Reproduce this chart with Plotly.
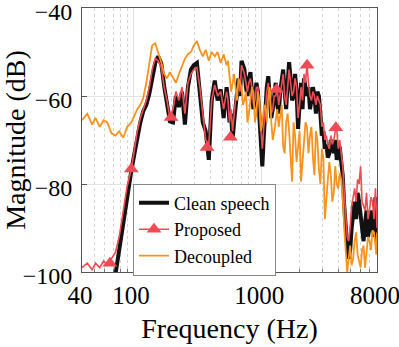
import numpy as np
import plotly.graph_objects as go

# frequency grid (Hz)
freq = [40, 44, 48, 51, 55, 59, 63, 68, 73, 78, 84, 90, 97,
        102, 108, 114, 120, 127, 134, 141, 149, 157, 166, 175, 184, 194, 205,
        216, 228, 241, 254, 268, 283, 298, 315, 332, 350, 369, 390, 411, 434,
        457, 483, 509,
        537, 551, 566, 582, 598, 614, 630, 647, 665, 683, 702, 721, 740, 760,
        781, 802, 824, 846, 869, 893, 917, 942, 967, 993, 1020, 1048, 1076, 1105,
        1135, 1166, 1198, 1230, 1263, 1297, 1333, 1369, 1406, 1444, 1483, 1523,
        1565, 1607, 1650, 1695, 1741, 1788, 1837, 1887, 1938, 1991, 2044, 2100,
        2156, 2215, 2275, 2337, 2400, 2465, 2532, 2600, 2671, 2743, 2817, 2894,
        2972, 3053, 3136, 3221, 3308, 3398, 3490, 3584, 3681, 3781, 3883, 3989,
        4097, 4208, 4322, 4439, 4559, 4683, 4810, 4940, 5074, 5211, 5352, 5497,
        5646, 5799, 5957, 6118, 6284, 6454, 6629, 6808, 6993, 7182, 7377, 7577,
        7783, 7890, 8000]

clean = [-108, -110, -107, -109, -106, -110, -108, -105, -100.5, -95, -88, -82, -77,
         -73.5, -69.5, -66, -63.5, -62, -59.5, -55.5, -52.5, -51, -52.5, -57.8, -62, -65.8, -66,
         -60, -62.5, -59, -66.5, -58, -54, -53, -52.5, -59.5, -66, -68, -74.5, -61, -56.5,
         -61, -58.5, -65,
         -58, -61, -66, -64, -70, -66, -62, -58, -56, -60, -52, -53, -54, -58,
         -60, -56, -54.6, -59, -63, -60, -57, -59, -64, -70, -76, -69, -63, -58,
         -55.5, -61, -65, -63, -60, -57, -62, -64, -59, -56, -54, -59,
         -63, -57, -52.3, -56, -61, -60, -55, -59, -67.5, -62, -57, -63,
         -56, -58, -60, -58, -63, -61, -58, -60, -64, -59, -60, -64,
         -69, -68, -72, -71, -74, -73, -70, -71, -73, -70, -74.5, -73,
         -71.5, -75, -78, -85, -91, -94, -97, -95, -90, -86, -84, -88,
         -82, -84, -87, -91, -93, -89, -86, -92, -90, -86, -89, -92,
         -83, -88, -93]

proposed = [-99, -98, -99.5, -98, -99, -97.5, -98.5, -97, -95.5, -92, -86, -80.5, -76.6,
            -72, -68, -65, -63, -61, -58, -54, -51.5, -52, -53.5, -58, -61, -65, -63,
            -59, -61, -58, -64, -57, -55, -54, -53.5, -58, -64, -70, -71, -61, -57.5,
            -60, -59, -63,
            -59, -61, -66, -63, -68, -64, -61, -59, -57, -59, -53, -54, -55, -57,
            -59, -57, -56, -58, -62, -61, -58, -58, -63, -66, -72, -67, -63, -59,
            -57, -60, -64, -63, -60, -60, -58.5, -62, -60, -57, -55, -60,
            -62, -58, -54, -57, -60, -59, -56, -58, -65, -62, -58, -61,
            -55, -57, -53, -57, -60, -61, -59, -60, -62, -60, -61, -62,
            -67, -66, -70, -69, -71, -72, -69, -71, -70, -68, -67.5, -72,
            -70, -73, -76, -82, -88, -92, -93, -90, -85, -83, -81, -84,
            -79, -80, -76, -84, -85, -86, -82, -88, -86, -83, -84, -88,
            -81, -84, -90]

decoupled = [-65.5, -64, -66.5, -65, -67, -65.5, -66, -68.5, -69, -68, -69.5, -67, -66,
             -64.5, -63, -62, -60.5, -57, -52, -48.5, -48, -50, -52.3, -55, -56, -54.6, -56,
             -57, -55, -53, -51.5, -50.5, -50, -48.5, -47.5, -49.5, -51, -49.5, -52, -50, -51,
             -50, -52.5, -50.5,
             -53, -52, -55.5, -59, -57, -55, -58, -61, -56, -57, -58, -62, -61, -59,
             -66, -64, -60, -58, -59, -66, -64, -59, -61, -68, -66, -63, -62, -66,
             -60, -58, -66, -70, -68, -65, -63, -67, -65, -62, -71.5, -73,
             -66, -64, -68, -74, -79.5, -66, -69, -75, -72, -68, -79.5, -75,
             -70, -66, -67, -73, -69, -67, -74, -78, -68, -70, -76.5, -80,
             -72, -74, -88, -82, -79, -75, -78, -84, -82, -76, -80, -81,
             -77.5, -79, -83, -90, -94, -100, -97, -94, -98.5, -97, -93, -91,
             -96, -98, -99, -95, -94, -99, -96, -92, -93, -95, -90.5, -91,
             -94, -96, -91]

# triangle markers on the proposed curve
marker_freq = [66, 97, 198, 378, 575, 1316, 2280, 3820]
marker_db = [-98, -76.6, -64.9, -71.7, -69.4, -58.5, -53, -67.2]

assert len(freq) == len(clean) == len(proposed) == len(decoupled)

RED = '#EE4C55'
ORANGE = '#F7931E'

fig = go.Figure()
fig.add_trace(go.Scatter(x=freq, y=clean, mode='lines', name='Clean speech',
                         line=dict(color='#111111', width=4)))
fig.add_trace(go.Scatter(x=freq, y=proposed, mode='lines', showlegend=False,
                         line=dict(color=RED, width=1.6)))
fig.add_trace(go.Scatter(x=marker_freq, y=marker_db, mode='markers', showlegend=False,
                         marker=dict(symbol='triangle-up', size=13, color=RED)))
fig.add_trace(go.Scatter(x=[None], y=[None], mode='lines+markers', name='Proposed',
                         line=dict(color=RED, width=1.5),
                         marker=dict(symbol='triangle-up', size=13, color=RED)))
fig.add_trace(go.Scatter(x=freq, y=decoupled, mode='lines', name='Decoupled',
                         line=dict(color=ORANGE, width=1.8)))

minor_vals = [50, 60, 70, 80, 90, 200, 300, 400, 500, 600, 700, 800, 900,
              2000, 3000, 4000, 5000, 6000, 7000]

fig.update_layout(
    width=399, height=347,
    margin=dict(l=82, r=22, t=8, b=75),
    plot_bgcolor='white', paper_bgcolor='white',
    font=dict(family='Liberation Serif', size=23, color='black'),
    legend=dict(x=0.173, y=0.335, xanchor='left', yanchor='top',
                bgcolor='white', bordercolor='#888888', borderwidth=1,
                font=dict(size=18), tracegroupgap=0),
)
fig.update_xaxes(type='log', range=[np.log10(40), np.log10(8000)], automargin=False,
                 tickvals=[40, 100, 1000, 8000], ticktext=['40', '100', '1000', '8000'],
                 tickfont=dict(size=25), ticklabelstandoff=1, ticklabelshift=-2,
                 ticklabeloverflow='allow',
                 showline=True, mirror=True, linecolor='#555555', linewidth=1,
                 ticks='inside', ticklen=5, tickcolor='#555555',
                 showgrid=True, gridcolor='#e3e3e3',
                 minor=dict(tickvals=minor_vals, showgrid=True, gridcolor='#d5d5d5',
                            griddash='dot', ticks='inside', ticklen=3, tickcolor='#777777'),
                 title=dict(text='Frequency (Hz)', standoff=10))
fig.update_yaxes(range=[-100, -40], automargin=False,
                 tickvals=[-100, -80, -60, -40],
                 ticktext=['\u2212100', '\u221280', '\u221260', '\u221240'],
                 tickfont=dict(size=24), ticklabelstandoff=4, ticklabelshift=4,
                 ticklabeloverflow='allow',
                 showline=True, mirror=True, linecolor='#555555', linewidth=1,
                 ticks='inside', ticklen=5, tickcolor='#555555',
                 showgrid=True, gridcolor='#e3e3e3', zeroline=False,
                 title=dict(text='Magnitude (dB)', standoff=5))

# drop the default page margin so the figure sits at the window corner
fig.write_html("out.html", config={'displayModeBar': False},
               post_script="document.body.style.margin='0';")
